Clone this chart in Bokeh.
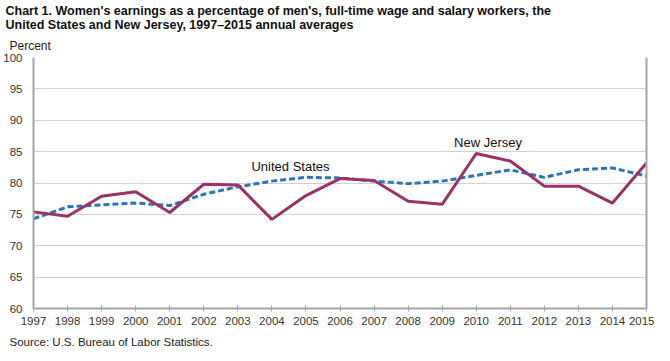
from bokeh.plotting import figure
from bokeh.models import Title, LinearAxis, Range1d, Label, FixedTicker
from bokeh.embed import file_html
from bokeh.resources import INLINE

years = list(range(1997, 2016))
new_jersey = [75.4, 74.7, 77.9, 78.6, 75.3, 79.8, 79.7, 74.2, 78.0, 80.7,
              80.4, 77.1, 76.6, 84.7, 83.5, 79.5, 79.5, 76.8, 83.2]
united_states = [74.3, 76.2, 76.5, 76.8, 76.4, 78.2, 79.4, 80.3, 80.9, 80.8,
                 80.3, 79.9, 80.3, 81.2, 82.1, 80.9, 82.1, 82.4, 81.1]
y_ticks = [60, 65, 70, 75, 80, 85, 90, 95, 100]
title_text = ("Chart 1. Women's earnings as a percentage of men's, full-time wage and salary workers, the\n"
              "United States and New Jersey, 1997\u20132015 annual averages")
FONT = "Liberation Sans"

p = figure(width=654, height=353, output_backend="svg", toolbar_location=None,
           x_range=Range1d(1997, 2015), y_range=Range1d(60, 100), title=None,
           min_border_left=30, min_border_right=8, min_border_top=0, min_border_bottom=0)
p.outline_line_color = None
p.background_fill_color = "white"

# grid
p.xgrid.grid_line_color = None
p.ygrid.grid_line_color = "#d6d0d3"
p.ygrid.grid_line_width = 1
p.ygrid.ticker = FixedTicker(ticks=y_ticks)

# axes
xa = p.xaxis[0]
xa.ticker = FixedTicker(ticks=years)
xa.axis_line_color = "#a6a6a6"
xa.axis_line_width = 2
xa.major_tick_line_color = "#a6a6a6"
xa.major_tick_in = 3
xa.major_tick_out = 3
xa.minor_tick_line_color = None
xa.major_label_text_font = FONT
xa.major_label_text_font_size = "11.5px"
xa.major_label_text_color = "#333333"
xa.major_label_standoff = 5

ya = p.yaxis[0]
ya.ticker = FixedTicker(ticks=y_ticks)
ya.axis_line_color = "#a6a6a6"
ya.axis_line_width = 2
ya.major_tick_line_color = None
ya.minor_tick_line_color = None
ya.major_label_text_font = FONT
ya.major_label_text_font_size = "11.5px"
ya.major_label_text_color = "#333333"
ya.major_label_standoff = 5

ra = LinearAxis(ticker=FixedTicker(ticks=[]), axis_line_color="#a6a6a6", axis_line_width=2,
                major_tick_line_color=None, minor_tick_line_color=None,
                major_label_text_font_size="0px")
p.add_layout(ra, "right")

# series
p.line(years, united_states, line_color="#2e74b8", line_width=3, line_dash="6 3")
p.line(years, new_jersey, line_color="#993366", line_width=3)

# labels
p.add_layout(Label(x=2003.4, y=81.4, text="United States", text_font=FONT,
                   text_font_size="13px", text_color="#111111"))
p.add_layout(Label(x=2009.35, y=85.3, text="New Jersey", text_font=FONT,
                   text_font_size="13px", text_color="#111111"))

# titles
p.add_layout(Title(text="Percent", text_font=FONT, text_font_size="12px", text_font_style="normal",
                   text_color="#222222", align="left", offset=-24, standoff=9), "above")
p.add_layout(Title(text=title_text, text_font=FONT, text_font_size="12.5px", text_font_style="bold",
                   text_color="#111111", align="left", offset=-28, standoff=2), "above")
p.add_layout(Title(text="Source:  U.S. Bureau of Labor Statistics.", text_font=FONT,
                   text_font_size="11.5px", text_font_style="normal", text_color="#222222",
                   align="left", offset=-24, standoff=12), "below")

open("out.html", "w").write(file_html(p, INLINE))
